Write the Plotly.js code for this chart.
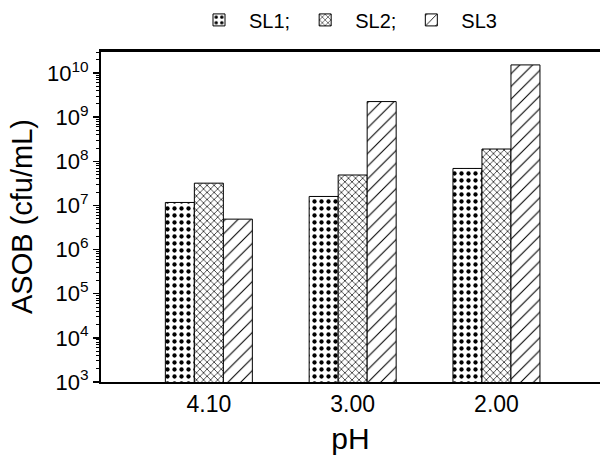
<!DOCTYPE html>
<html>
<head>
<meta charset="utf-8">
<script src="https://cdn.plot.ly/plotly-3.0.1.min.js"></script>
<style>html,body{margin:0;padding:0;background:#fff;}#chart{width:600px;height:468px;}</style>
</head>
<body>
<div id="chart"></div>
<script>
// Data
const categories = ["4.10", "3.00", "2.00"];
const seriesNames = ["SL1;", "SL2;", "SL3"];
const sl1 = [1.17e7, 1.6e7, 6.9e7];
const sl2 = [3.2e7, 4.9e7, 1.9e8];
const sl3 = [4.9e6, 2.26e9, 1.53e10];
const yTickVals = [1e3, 1e4, 1e5, 1e6, 1e7, 1e8, 1e9, 1e10];
const yTickText = ["10<sup>3</sup>", "10<sup>4</sup>", "10<sup>5</sup>", "10<sup>6</sup>", "10<sup>7</sup>", "10<sup>8</sup>", "10<sup>9</sup>", "10<sup>10</sup>"];

const patterns = [
  {shape: ".", size: 7, solidity: 0.3, fgcolor: "#000", bgcolor: "#fff", fillmode: "replace"},
  {shape: "x", size: 5, solidity: 0.25, fgcolor: "#000", bgcolor: "#fff", fillmode: "replace"},
  {shape: "/", size: 9, solidity: 0.12, fgcolor: "#000", bgcolor: "#fff", fillmode: "replace"}
];
const values = [sl1, sl2, sl3];

const traces = values.map((v, i) => ({
  type: "bar",
  name: seriesNames[i],
  x: categories,
  y: v,
  marker: {color: "#fff", pattern: patterns[i], line: {color: "#000", width: 1}}
}));

const font = "Liberation Sans, Arial, sans-serif";
const layout = {
  width: 600, height: 468,
  margin: {l: 101, r: 0, t: 47, b: 86},
  paper_bgcolor: "#fff", plot_bgcolor: "#fff",
  barmode: "group", bargap: 0.395, bargroupgap: 0,
  font: {family: font, color: "#000"},
  showlegend: true,
  legend: {orientation: "h", x: 0.49, xanchor: "center", y: 1.035, yanchor: "bottom",
           bgcolor: "rgba(0,0,0,0)",
           font: {size: 20, family: font}, itemwidth: 50, tracegroupgap: 0},
  shapes: [{type: "line", xref: "paper", yref: "paper", x0: 0, x1: 1, y0: 1, y1: 1,
            line: {color: "#000", width: 2}, layer: "above"}],
  xaxis: {
    type: "category", range: [-0.75, 2.72],
    showline: true, linecolor: "#000", linewidth: 2, mirror: true,
    ticks: "", showgrid: false, zeroline: false,
    tickfont: {size: 23, family: font},
    title: {text: "pH", font: {size: 30, family: font}, standoff: 12}
  },
  yaxis: {
    type: "log", range: [3, 10.5],
    showline: true, linecolor: "#000", linewidth: 2,
    showgrid: false, zeroline: false,
    ticks: "outside", ticklen: 6, tickwidth: 1.5, tickcolor: "#000",
    tickmode: "array", tickvals: yTickVals, ticktext: yTickText,
    tickfont: {size: 22, family: font},
    minor: {ticks: "outside", ticklen: 3, tickwidth: 1, tickcolor: "#000", dtick: "D1", showgrid: false},
    title: {text: "ASOB (cfu/mL)", font: {size: 29, family: font}, standoff: 6}
  }
};

Plotly.newPlot("chart", traces, layout, {displayModeBar: false, staticPlot: true});
</script>
</body>
</html>
